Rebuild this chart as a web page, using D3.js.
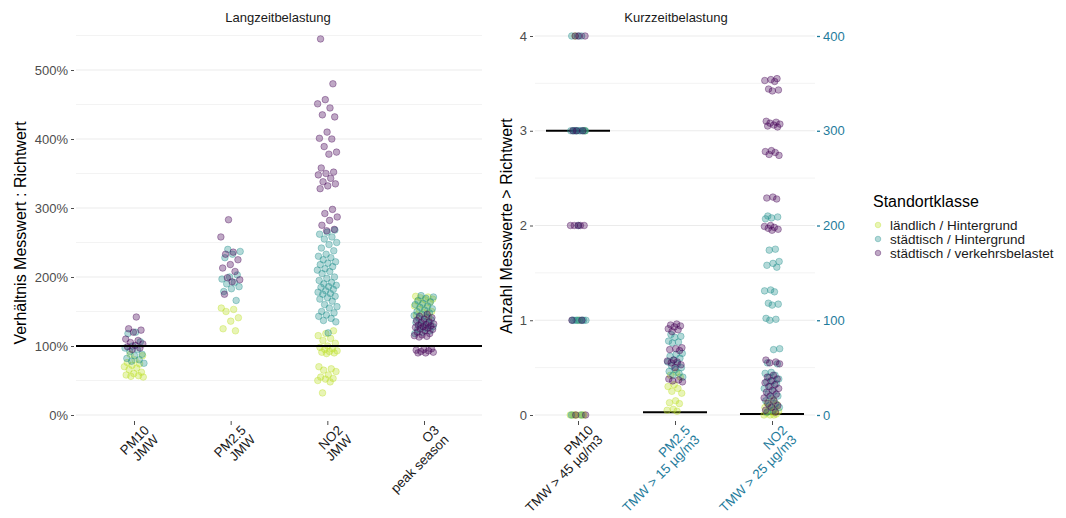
<!DOCTYPE html>
<html><head><meta charset="utf-8">
<script src="https://cdn.jsdelivr.net/npm/d3@7"></script>
<style>body{margin:0;background:#fff}svg{font-family:"Liberation Sans",Arial,sans-serif}</style>
</head><body><svg id="c" width="1066" height="518"></svg>
<script>
// ---------- data ----------
const classes = ["ländlich / Hintergrund", "städtisch / Hintergrund", "städtisch / verkehrsbelastet"];
const classColors = ["#BBDF27", "#21908C", "#440154"];
const legendTitle = "Standortklasse";

const longCats = ["PM10", "PM2.5", "NO2", "O3"];
const longLabels = [["PM10", "JMW"], ["PM2.5", "JMW"], ["NO2", "JMW"], ["O3", "peak season"]];
const shortCats = ["PM10", "PM2.5", "NO2"];
const shortLabels = [["PM10", "TMW > 45 µg/m3"], ["PM2.5", "TMW > 15 µg/m3"], ["NO2", "TMW > 25 µg/m3"]];
const shortSecondary = [false, true, true];

const longTicks = [0, 100, 200, 300, 400, 500];
const shortTicks = [0, 1, 2, 3, 4];
const shortTicks2 = [0, 100, 200, 300, 400];
const longRef = 100;              // percent
const shortRef = [3, 3, 1];       // days (PM10 on primary axis, others on secondary)

// Langzeitbelastung (percent of guideline)
const pm10Land = [88, 86, 80, 76, 74, 72, 70, 68, 66, 62, 60, 58, 57, 56, 55];
const pm10Stadt = [120, 118, 106, 100, 97, 95, 92, 88, 86, 82, 80, 78, 75];
const pm10Verkehr = [142, 125, 123, 120, 110, 108, 105, 103, 101, 99, 97, 95];
const pm25Land = [155, 153, 150, 141, 136, 125, 122];
const pm25Stadt = [240, 237, 233, 228, 203, 200, 197, 192, 190, 186, 183, 179, 166];
const pm25Verkehr = [283, 258, 236, 233, 225, 218, 213, 208, 199, 196, 193, 175];
const no2Land = [122, 118, 115, 111, 108, 104, 100, 98, 96, 95, 93, 92, 91, 90, 89, 70, 67, 65, 63, 58, 55, 53, 52, 50, 48, 32];
const no2Stadt = [268, 265, 262, 258, 255, 250, 247, 242, 238, 233, 230, 228, 225, 222, 220, 218, 215, 212, 210, 208, 205, 200, 198, 195, 192, 190, 188, 186, 185, 182, 180, 178, 176, 175, 172, 170, 168, 165, 160, 157, 155, 150, 148, 145, 143, 140, 137, 135, 119];
const no2Verkehr = [545, 480, 457, 451, 445, 435, 432, 410, 401, 400, 389, 381, 378, 358, 352, 350, 348, 343, 338, 335, 332, 328, 298, 292, 287, 282, 275, 269, 267];
const o3Land = [172, 171, 170, 168, 167, 165, 163, 160, 158, 155, 153, 150, 148, 145, 142];
const o3Stadt = [173, 171, 169, 166, 164, 162, 160, 158, 156, 154, 152, 150, 148, 146, 144, 142, 140, 138, 136, 134, 132, 130, 128, 126, 124, 122, 120, 118];
const o3Verkehr = [146, 143, 141, 139, 137, 135, 134, 132, 131, 130, 129, 128, 127, 126, 125, 124, 122, 120, 118, 116, 115, 114, 113, 96, 95, 94, 93, 92, 91, 90, 90];

// Kurzzeitbelastung (days above guideline)
const pm10ShortLand = [4, 3, 1, 0, 0, 0, 0, 0, 0, 0];
const pm10ShortStadt = [4, 4, 4, 3, 3, 3, 3, 3, 3, 3, 3, 3, 3, 2, 1, 1, 1, 1, 1, 1, 1, 1, 0, 0];
const pm10ShortVerkehr = [4, 4, 4, 3, 3, 3, 2, 2, 2, 2, 2, 1, 1, 0, 0];
const pm25ShortLand = [45, 42, 40, 32, 30, 28, 25, 23, 15, 13, 12, 6, 5, 4];
const pm25ShortStadt = [85, 83, 82, 78, 77, 76, 65, 64, 62, 60, 58, 56, 54, 52, 50, 48, 46, 44, 42, 40];
const pm25ShortVerkehr = [96, 95, 94, 93, 91, 90, 88, 71, 70, 69, 68, 58, 57, 56, 55, 53, 50, 38, 37, 36, 35];
const no2ShortLand = [16, 13, 11, 9, 8, 6, 5, 4, 3, 2, 1, 0, 0, 0];
const no2ShortStadt = [210, 209, 208, 207, 175, 174, 162, 160, 158, 156, 132, 131, 130, 118, 117, 116, 102, 101, 100, 70, 69, 55, 54, 45, 44, 42, 40, 38, 36, 35, 33, 30, 28, 25, 22, 20, 18, 15, 12, 10, 8, 5, 3];
const no2ShortVerkehr = [355, 354, 353, 352, 344, 343, 342, 310, 309, 308, 307, 306, 305, 304, 279, 278, 277, 275, 274, 230, 229, 228, 200, 199, 198, 197, 196, 195, 58, 56, 55, 54, 42, 40, 38, 36, 34, 32, 30, 28, 26, 24, 22, 20, 18, 15, 12, 10, 8, 5, 3];

const longData = [
  [pm10Land, pm10Stadt, pm10Verkehr],
  [pm25Land, pm25Stadt, pm25Verkehr],
  [no2Land, no2Stadt, no2Verkehr],
  [o3Land, o3Stadt, o3Verkehr]
];
const shortData = [
  [pm10ShortLand, pm10ShortStadt, pm10ShortVerkehr],
  [pm25ShortLand, pm25ShortStadt, pm25ShortVerkehr],
  [no2ShortLand, no2ShortStadt, no2ShortVerkehr]
];

// ---------- drawing ----------
const svg = d3.select("#c");
const teal = "#1F7C9C";
const tickCol = "#4D4D4D";
const gridCol = "#EBEBEB";

// jitter: deterministic low-discrepancy offsets in [-1,1]
const jit = i => (((i * 0.6180339887 + 0.31) % 1) - 0.5) * 2;

function flatten(dataset, cats) {
  const out = [];
  let k = 0;
  dataset.forEach((byClass, ci) => {
    byClass.forEach((vals, cl) => {
      vals.forEach(v => out.push({cat: cats[ci], ci, cl, v, j: jit(k++)}));
    });
  });
  return out;
}

function catLabels(g, scale, labels, colors) {
  labels.forEach((lab, i) => {
    const t = g.append("text")
      .attr("transform", `translate(${scale(scale.domain()[i]) + 9},${424}) rotate(-45)`)
      .attr("text-anchor", "end").style("font-size", "13.3px").attr("fill", colors[i]);
    lab.forEach((s, li) => t.append("tspan").attr("x", 0).attr("dy", li === 0 ? "0.75em" : "1.0em").text(s));
  });
}

// ---- Left panel ----
const L = {x0: 76, x1: 482, y0: 32, y1: 420};
const xL = d3.scalePoint().domain(longCats).range([134, 424]);
const yL = d3.scaleLinear().domain([0, 500]).range([415, 70]);
const gL = svg.append("g");

const lMinor = d3.range(50, 560, 100);
gL.selectAll(".gmin").data(lMinor).join("line")
  .attr("x1", L.x0).attr("x2", L.x1).attr("y1", d => yL(d)).attr("y2", d => yL(d))
  .attr("stroke", gridCol).attr("stroke-width", 0.6);
gL.selectAll(".gmaj").data(longTicks).join("line")
  .attr("x1", L.x0).attr("x2", L.x1).attr("y1", d => yL(d)).attr("y2", d => yL(d))
  .attr("stroke", gridCol).attr("stroke-width", 1.1);

const axL = gL.append("g").attr("transform", `translate(${L.x0 - 2},0)`)
  .call(d3.axisLeft(yL).tickValues(longTicks).tickFormat(d => d + "%").tickSize(3).tickPadding(3));
axL.select(".domain").remove();
axL.selectAll("line").attr("stroke", tickCol);
axL.selectAll("text").attr("fill", tickCol).style("font-size", "13px");

const axLB = gL.append("g").attr("transform", `translate(0,${L.y1 + 1})`)
  .call(d3.axisBottom(xL).tickSize(4).tickFormat(""));
axLB.select(".domain").remove();
axLB.selectAll("line").attr("stroke", tickCol);
catLabels(gL, xL, longLabels, longLabels.map(() => "#1A1A1A"));

const ptsL = flatten(longData, longCats);
gL.selectAll(".pt").data(ptsL).join("circle")
  .attr("cx", d => xL(d.cat) + d.j * 10)
  .attr("cy", d => yL(d.v))
  .attr("r", 3.3)
  .attr("fill", d => classColors[d.cl]).attr("fill-opacity", 0.34)
  .attr("stroke", d => classColors[d.cl]).attr("stroke-opacity", 0.45).attr("stroke-width", 0.8);

gL.append("line").attr("x1", L.x0).attr("x2", L.x1).attr("y1", yL(longRef)).attr("y2", yL(longRef))
  .attr("stroke", "#000").attr("stroke-width", 2);

svg.append("text").attr("transform", "translate(26,233) rotate(-90)").attr("text-anchor", "middle")
  .style("font-size", "16px").attr("fill", "#000").text("Verhältnis Messwert : Richtwert");
svg.append("text").attr("x", 278).attr("y", 22).attr("text-anchor", "middle")
  .style("font-size", "13px").attr("fill", "#1A1A1A").text("Langzeitbelastung");

// ---- Right panel ----
const R = {x0: 535, x1: 815, y0: 32, y1: 420};
const xR = d3.scalePoint().domain(shortCats).range([578, 772]);
const yR = d3.scaleLinear().domain([0, 4]).range([415, 36]);
const yR2 = d3.scaleLinear().domain([0, 400]).range([415, 36]);
const gR = svg.append("g");

const rMinor = [0.5, 1.5, 2.5, 3.5];
gR.selectAll(".gmin").data(rMinor).join("line")
  .attr("x1", R.x0).attr("x2", R.x1).attr("y1", d => yR(d)).attr("y2", d => yR(d))
  .attr("stroke", gridCol).attr("stroke-width", 0.6);
gR.selectAll(".gmaj").data(shortTicks).join("line")
  .attr("x1", R.x0).attr("x2", R.x1).attr("y1", d => yR(d)).attr("y2", d => yR(d))
  .attr("stroke", gridCol).attr("stroke-width", 1.1);

const axR = gR.append("g").attr("transform", `translate(${R.x0 - 2},0)`)
  .call(d3.axisLeft(yR).tickValues(shortTicks).tickFormat(d3.format("d")).tickSize(3).tickPadding(3));
axR.select(".domain").remove();
axR.selectAll("line").attr("stroke", tickCol);
axR.selectAll("text").attr("fill", tickCol).style("font-size", "13px");

const axR2 = gR.append("g").attr("transform", `translate(${R.x1 + 2},0)`)
  .call(d3.axisRight(yR2).tickValues(shortTicks2).tickFormat(d3.format("d")).tickSize(3).tickPadding(3));
axR2.select(".domain").remove();
axR2.selectAll("line").attr("stroke", teal).attr("stroke-width", 1.3);
axR2.selectAll("text").attr("fill", teal).style("font-size", "13px");

const axRB = gR.append("g").attr("transform", `translate(0,${R.y1 + 1})`)
  .call(d3.axisBottom(xR).tickSize(4).tickFormat(""));
axRB.select(".domain").remove();
axRB.selectAll("line").attr("stroke", tickCol);
catLabels(gR, xR, shortLabels, shortSecondary.map(s => s ? teal : "#1A1A1A"));

const step = xR.step();
gR.selectAll(".ref").data(shortCats).join("line")
  .attr("x1", d => xR(d) - step * 0.33).attr("x2", d => xR(d) + step * 0.33)
  .attr("y1", (d, i) => shortSecondary[i] ? yR2(shortRef[i]) : yR(shortRef[i]))
  .attr("y2", (d, i) => shortSecondary[i] ? yR2(shortRef[i]) : yR(shortRef[i]))
  .attr("stroke", "#000").attr("stroke-width", 2);

const ptsR = flatten(shortData, shortCats);
gR.selectAll(".pt").data(ptsR).join("circle")
  .attr("cx", d => xR(d.cat) + d.j * 8)
  .attr("cy", d => shortSecondary[d.ci] ? yR2(d.v) : yR(d.v))
  .attr("r", 3.3)
  .attr("fill", d => classColors[d.cl]).attr("fill-opacity", 0.34)
  .attr("stroke", d => classColors[d.cl]).attr("stroke-opacity", 0.45).attr("stroke-width", 0.8);

svg.append("text").attr("transform", "translate(512,226) rotate(-90)").attr("text-anchor", "middle")
  .style("font-size", "16px").attr("fill", "#000").text("Anzahl Messwerte > Richtwert");
svg.append("text").attr("x", 676).attr("y", 22).attr("text-anchor", "middle")
  .style("font-size", "13px").attr("fill", "#1A1A1A").text("Kurzzeitbelastung");

// ---- Legend ----
const lg = svg.append("g").attr("transform", "translate(873,0)");
lg.append("text").attr("x", 0).attr("y", 207).style("font-size", "16px").attr("fill", "#000").text(legendTitle);
classes.forEach((c, i) => {
  const y = 225 + i * 14;
  lg.append("circle").attr("cx", 5).attr("cy", y).attr("r", 2.8)
    .attr("fill", classColors[i]).attr("fill-opacity", 0.34)
    .attr("stroke", classColors[i]).attr("stroke-opacity", 0.45).attr("stroke-width", 0.8);
  lg.append("text").attr("x", 17).attr("y", y + 4.5).style("font-size", "13.5px").attr("fill", "#1A1A1A").text(c);
});
</script></body></html>
